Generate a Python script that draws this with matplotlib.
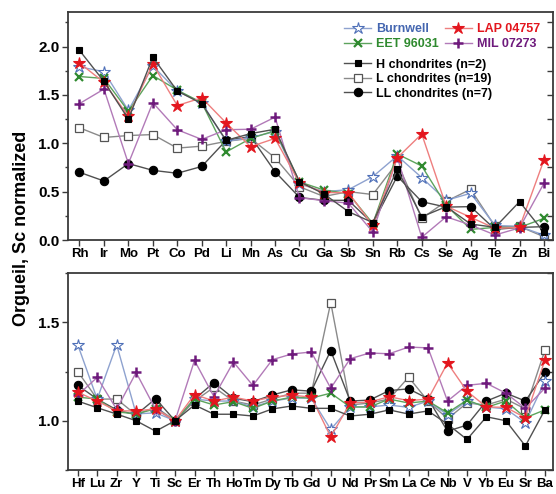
import matplotlib
matplotlib.use("Agg")
import matplotlib.pyplot as plt
from matplotlib.ticker import MultipleLocator
import numpy as np

plt.rcParams['font.family'] = ['Liberation Sans', 'DejaVu Sans']
plt.rcParams['font.weight'] = 'bold'

# ---------------- data ----------------
top_cats = ['Rh', 'Ir', 'Mo', 'Pt', 'Co', 'Pd', 'Li', 'Mn', 'As', 'Cu', 'Ga', 'Sb',
            'Sn', 'Rb', 'Cs', 'Se', 'Ag', 'Te', 'Zn', 'Bi']
burnwell_top = [1.79, 1.74, 1.34, 1.80, 1.54, 1.42, 1.02, 1.06, 1.12, 0.58, 0.50, 0.52,
                0.655, 0.87, 0.645, 0.41, 0.483, 0.15, 0.14, 0.05]
lap_top = [1.83, 1.63, 1.28, 1.82, 1.39, 1.47, 1.21, 0.965, 1.05, 0.59, 0.49, 0.49,
           0.15, 0.85, 1.096, 0.35, 0.235, 0.12, 0.13, 0.827]
eet_top = [1.69, 1.67, 1.33, 1.70, 1.55, 1.42, 0.91, 1.05, 1.13, 0.60, 0.517, 0.48,
           0.17, 0.889, 0.765, 0.36, 0.11, 0.13, 0.13, 0.224]
mil_top = [1.41, 1.56, 0.79, 1.42, 1.14, 1.04, 1.14, 1.145, 1.27, 0.437, 0.407, 0.38,
           0.083, 0.855, 0.028, 0.24, 0.155, 0.052, 0.125, 0.586]
h_top = [1.96, 1.64, 1.25, 1.89, 1.54, 1.41, 1.03, 1.10, 1.145, 0.603, 0.476, 0.293,
         0.18, 0.73, 0.24, 0.345, 0.165, 0.131, 0.396, 0.08]
l_top = [1.16, 1.06, 1.08, 1.09, 0.95, 0.97, 1.02, 1.05, 0.85, 0.55, 0.45, 0.50,
         0.47, 0.80, 0.224, 0.40, 0.524, 0.14, 0.14, 0.034]
ll_top = [0.70, 0.61, 0.79, 0.72, 0.69, 0.76, 1.03, 1.07, 0.706, 0.44, 0.41, 0.41,
          0.17, 0.66, 0.396, 0.34, 0.345, 0.11, 0.13, 0.138]

bot_cats = ['Hf', 'Lu', 'Zr', 'Y', 'Ti', 'Sc', 'Er', 'Th', 'Ho', 'Tm', 'Dy', 'Tb', 'Gd',
            'U', 'Nd', 'Pr', 'Sm', 'La', 'Ce', 'Nb', 'V', 'Yb', 'Eu', 'Sr', 'Ba']
burnwell_bot = [1.386, 1.11, 1.386, 1.035, 1.04, 1.0, 1.11, 1.10, 1.10, 1.07, 1.10, 1.115,
                1.115, 0.956, 1.07, 1.07, 1.08, 1.068, 1.10, 1.03, 1.10, 1.07, 1.06, 0.99, 1.20]
lap_bot = [1.145, 1.10, 1.05, 1.05, 1.06, 1.0, 1.133, 1.10, 1.12, 1.10, 1.12, 1.13,
           1.12, 0.918, 1.09, 1.095, 1.122, 1.102, 1.11, 1.293, 1.15, 1.07, 1.068, 1.015, 1.306]
eet_bot = [1.12, 1.11, 1.045, 1.035, 1.06, 1.0, 1.11, 1.08, 1.097, 1.063, 1.10, 1.12,
           1.115, 1.14, 1.07, 1.07, 1.11, 1.09, 1.10, 1.04, 1.105, 1.068, 1.10, 1.015, 1.055]
mil_bot = [1.13, 1.22, 1.058, 1.245, 1.058, 1.0, 1.306, 1.122, 1.298, 1.179, 1.31, 1.339,
           1.349, 1.165, 1.315, 1.344, 1.34, 1.374, 1.37, 1.10, 1.18, 1.19, 1.14, 1.063, 1.165]
h_bot = [1.10, 1.066, 1.034, 1.0, 0.947, 1.0, 1.08, 1.033, 1.033, 1.024, 1.06, 1.075,
         1.063, 1.063, 1.024, 1.033, 1.055, 1.034, 1.05, 0.983, 0.905, 1.02, 1.0, 0.872, 1.055]
l_bot = [1.25, 1.11, 1.11, 1.03, 1.07, 1.0, 1.10, 1.17, 1.10, 1.08, 1.11, 1.14,
         1.14, 1.60, 1.08, 1.09, 1.11, 1.221, 1.10, 1.01, 1.09, 1.08, 1.11, 1.06, 1.357]
ll_bot = [1.18, 1.11, 1.055, 1.03, 1.112, 1.0, 1.11, 1.194, 1.114, 1.097, 1.131, 1.157,
          1.15, 1.356, 1.10, 1.105, 1.153, 1.162, 1.112, 0.947, 0.978, 1.10, 1.14, 1.10, 1.245]

series_names = ['Burnwell', 'LAP 04757', 'EET 96031', 'MIL 07273',
                'H chondrites (n=2)', 'L chondrites (n=19)', 'LL chondrites (n=7)']

# ---------------- styles ----------------
styles = [
    dict(color='#8ea2cf', marker='*', ms=9, mfc='white', mec='#4f70b8', mew=0.8),
    dict(color='#ee7f7f', marker='*', ms=9, mfc='#e3161e', mec='#e3161e', mew=0.8),
    dict(color='#5ca35c', marker='x', ms=6, mfc='none', mec='#2f8a2f', mew=1.6),
    dict(color='#b27ab8', marker='+', ms=7, mfc='none', mec='#6e1a7c', mew=1.8),
    dict(color='#505050', marker='s', ms=5, mfc='black', mec='black', mew=0.8),
    dict(color='#8a8a8a', marker='s', ms=6, mfc='white', mec='#555555', mew=0.9),
    dict(color='#505050', marker='o', ms=6, mfc='black', mec='black', mew=0.8),
]
text_colors = ['#4466b0', '#e3161e', '#2f8a2f', '#6e1a7c', 'black', 'black', 'black']

fig = plt.figure(figsize=(5.56, 4.94), dpi=100)
W, H = 556, 494
ax1 = fig.add_axes([68 / W, 1 - 240 / H, 485 / W, 228 / H])
ax2 = fig.add_axes([68 / W, 1 - 470 / H, 485 / W, 197 / H])

spine_col = '#3a3a3a'


def style_axes(ax, cats, ylim, xlim):
    ax.set_xlim(*xlim)
    ax.set_ylim(*ylim)
    ax.set_xticks(np.arange(len(cats)))
    ax.set_xticklabels(cats, fontsize=9.5, fontweight='bold')
    ax.yaxis.set_major_locator(MultipleLocator(0.5))
    ax.yaxis.set_minor_locator(MultipleLocator(0.25))
    ax.tick_params(axis='x', direction='out', length=4, width=1, color=spine_col,
                   top=False, pad=2)
    ax.tick_params(axis='y', which='major', direction='out', length=4, width=1,
                   color=spine_col, labelsize=11, right=False, pad=2)
    ax.tick_params(axis='y', which='minor', direction='out', length=2.5, width=1,
                   color=spine_col, right=False)
    for lab in ax.get_yticklabels():
        lab.set_fontweight('bold')
    for s in ax.spines.values():
        s.set_color(spine_col)
        s.set_linewidth(1.3)
    sec = ax.secondary_yaxis('right')
    sec.yaxis.set_major_locator(MultipleLocator(0.25))
    sec.tick_params(axis='y', direction='in', length=4, width=1, color=spine_col,
                    labelright=False)
    sec.spines['right'].set_visible(False)


top_data = [burnwell_top, lap_top, eet_top, mil_top, h_top, l_top, ll_top]
bot_data = [burnwell_bot, lap_bot, eet_bot, mil_bot, h_bot, l_bot, ll_bot]
order = [5, 6, 0, 2, 3, 1, 4]

handles = [None] * 7
for i in order:
    st = styles[i]
    x1 = np.arange(len(top_cats))
    ln, = ax1.plot(x1, top_data[i], linestyle='-', lw=1.0, color=st['color'],
                   marker=st['marker'], ms=st['ms'], mfc=st['mfc'], mec=st['mec'],
                   mew=st['mew'], label=series_names[i])
    handles[i] = ln
    x2 = np.arange(len(bot_cats))
    ax2.plot(x2, bot_data[i], linestyle='-', lw=1.0, color=st['color'],
             marker=st['marker'], ms=st['ms'], mfc=st['mfc'], mec=st['mec'],
             mew=st['mew'])

style_axes(ax1, top_cats, (0, 2.357), (-0.47, 19.37))
style_axes(ax2, bot_cats, (0.75, 1.75), (-0.5, 24.42))

# two-column legend, filled column-wise: Burnwell/EET in col 1, LAP/MIL in col 2
leg_idx = [0, 2, 1, 3]
leg1 = ax1.legend([handles[i] for i in leg_idx], [series_names[i] for i in leg_idx],
                  ncol=2, loc='upper left',
                  bbox_to_anchor=(0.57, 0.952), frameon=False, fontsize=9,
                  handlelength=2.1, handletextpad=0.45, columnspacing=0.5,
                  labelspacing=0.25, borderpad=0, borderaxespad=0)
for t, i in zip(leg1.get_texts(), leg_idx):
    t.set_color(text_colors[i])
    t.set_fontweight('bold')
ax1.add_artist(leg1)
leg2 = ax1.legend(handles[4:], series_names[4:], ncol=1, loc='upper left',
                  bbox_to_anchor=(0.57, 0.795), frameon=False, fontsize=9,
                  handlelength=2.1, handletextpad=0.45, labelspacing=0.2,
                  borderpad=0, borderaxespad=0)
for t in leg2.get_texts():
    t.set_fontweight('bold')

fig.text(22 / W, 1 - 228 / H, 'Orgueil, Sc normalized', rotation=90,
         ha='center', va='center', fontsize=13, fontweight='bold')

fig.savefig('out.png', dpi=100)
